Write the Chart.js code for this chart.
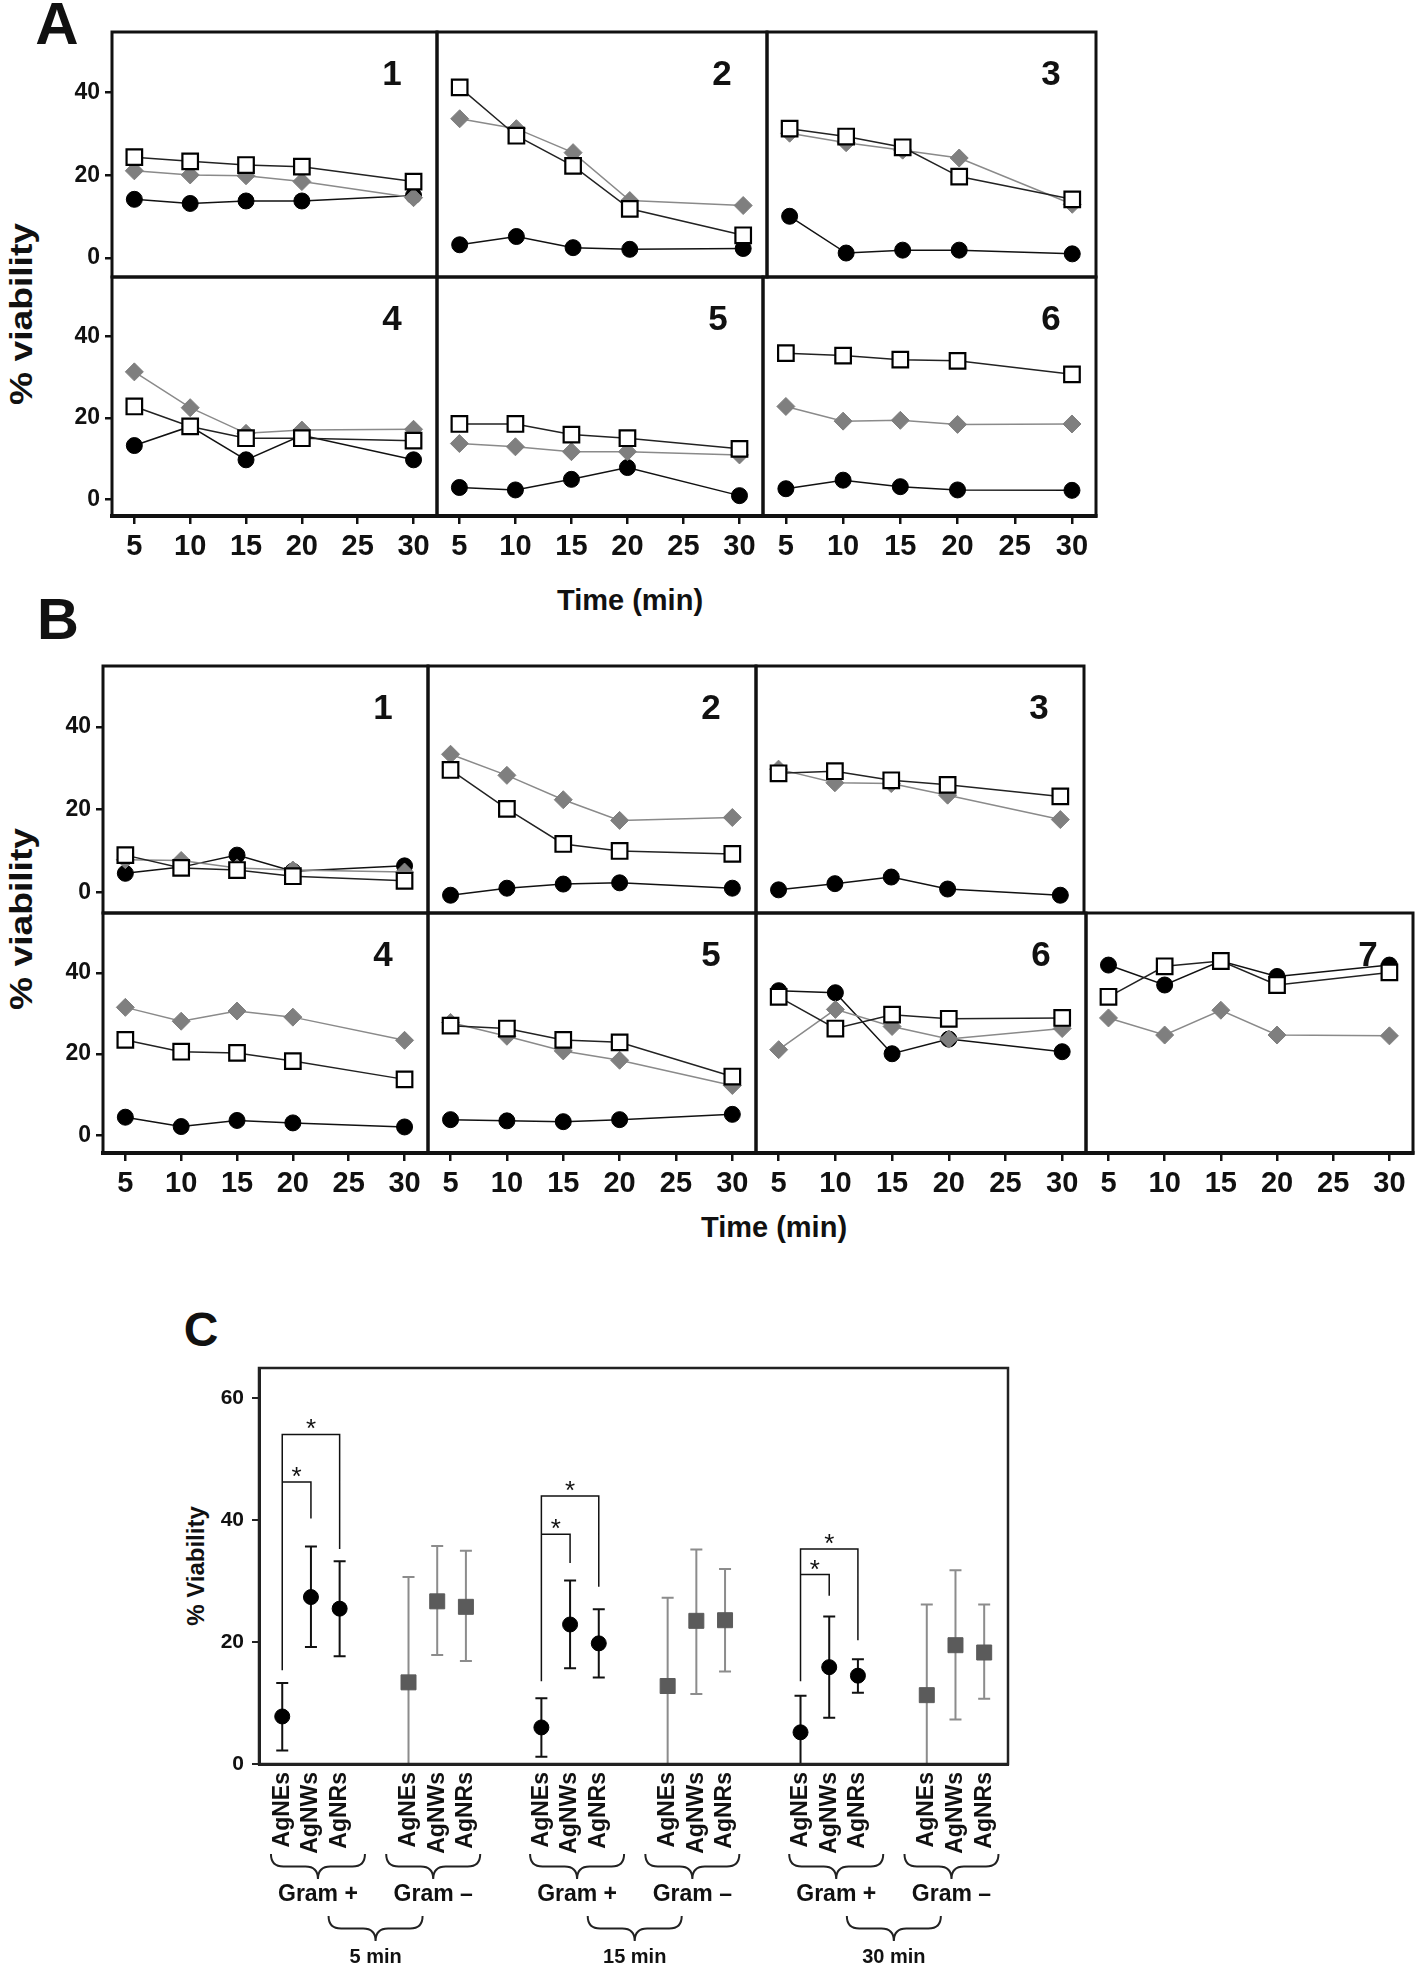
<!DOCTYPE html>
<html lang="en">

<head>
    <meta charset="UTF-8">
    <meta name="viewport" content="width=device-width, initial-scale=1.0">
    <script src="https://cdn.jsdelivr.net/npm/chart.js"></script>
    <title>Viability</title>
    <style>
        html, body { margin: 0; padding: 0; background: #fff; overflow: hidden; }
        #page { position: relative; width: 1418px; height: 1967px; overflow: hidden; }
        #page canvas { position: absolute; }
        .t {
            position: absolute; transform: translate(-50%, -50%); white-space: nowrap;
            line-height: 1; font-weight: bold; color: #111;
            font-family: "Liberation Sans", Arial, sans-serif;
        }
        .rot { transform: translate(-50%, -50%) rotate(-90deg); }
        .rotLong { transform: translate(-50%, -50%) rotate(-90deg) scaleX(1.2); }
    </style>
</head>

<body>
    <div id="page">
        <div class="t" style="left:57px; top:24px; font-size:60px">A</div>
        <div class="t" style="left:58px; top:619px; font-size:58px">B</div>
        <div class="t" style="left:201px; top:1330px; font-size:48px">C</div>

        <div class="t rotLong" style="left:21px; top:314px; font-size:31px">% viability</div>
        <div class="t rotLong" style="left:21px; top:919px; font-size:31px">% viability</div>
        <div class="t" style="left:630px; top:600px; font-size:29px">Time (min)</div>
        <div class="t" style="left:774px; top:1227px; font-size:29px">Time (min)</div>
        <div class="t rot" style="left:196px; top:1566px; font-size:24px">% Viability</div>
    </div>
</body>

</html>

<script>
    var times = [5, 10, 15, 20, 30]
    var timeTicks = [5, 10, 15, 20, 25, 30]
    var viabilityTicks = [0, 20, 40]

    // A - black circles, gray diamonds, open squares
    var a1Circle = [14.2, 13.2, 13.8, 13.8, 15.1]
    var a1Diamond = [21.1, 20.1, 19.9, 18.5, 14.6]
    var a1Square = [24.4, 23.4, 22.5, 22.1, 18.5]

    var a2Circle = [3.2, 5.2, 2.5, 2.1, 2.3]
    var a2Diamond = [33.7, 31.3, 25.5, 13.9, 12.7]
    var a2Square = [41.3, 29.6, 22.3, 11.9, 5.5]

    var a3Circle = [10.1, 1.2, 1.9, 1.9, 1.0]
    var a3Diamond = [30.2, 27.9, 26.1, 24.2, 13.0]
    var a3Square = [31.3, 29.4, 26.8, 19.7, 14.2]

    var a4Circle = [13.2, 17.9, 9.7, 15.7, 9.7]
    var a4Diamond = [31.3, 22.5, 16.2, 17.0, 17.2]
    var a4Square = [22.8, 17.9, 15.0, 15.0, 14.4]

    var a5Circle = [2.9, 2.3, 4.9, 7.8, 0.9]
    var a5Diamond = [13.7, 12.9, 11.7, 11.7, 10.9]
    var a5Square = [18.5, 18.5, 15.9, 15.0, 12.4]

    var a6Circle = [2.6, 4.7, 3.1, 2.3, 2.2]
    var a6Diamond = [22.8, 19.2, 19.4, 18.4, 18.5]
    var a6Square = [35.9, 35.3, 34.3, 34.0, 30.7]

    // B
    var b1Circle = [4.6, 6.1, 9.0, 5.1, 6.4]
    var b1Diamond = [7.9, 7.7, 5.9, 5.4, 4.9]
    var b1Square = [9.0, 5.9, 5.4, 3.9, 2.8]

    var b2Circle = [-0.7, 1.0, 2.0, 2.3, 1.0]
    var b2Diamond = [33.4, 28.3, 22.4, 17.4, 18.1]
    var b2Square = [29.6, 20.2, 11.7, 10.0, 9.3]

    var b3Circle = [0.6, 2.1, 3.7, 0.8, -0.7]
    var b3Diamond = [29.8, 26.5, 26.3, 23.5, 17.6]
    var b3Square = [28.8, 29.3, 27.1, 26.0, 23.2]

    var b4Circle = [4.5, 2.2, 3.7, 3.1, 2.1]
    var b4Diamond = [31.5, 28.1, 30.6, 29.1, 23.4]
    var b4Square = [23.5, 20.6, 20.3, 18.3, 13.8]

    var b5Circle = [3.9, 3.6, 3.4, 3.9, 5.2]
    var b5Diamond = [27.8, 24.4, 20.8, 18.5, 12.3]
    var b5Square = [27.0, 26.3, 23.5, 22.9, 14.5]

    var b6Circle = [35.6, 35.1, 20.1, 23.7, 20.6]
    var b6Diamond = [21.1, 31.0, 26.8, 23.7, 26.3]
    var b6Square = [34.1, 26.3, 29.7, 28.7, 28.9]

    var b7Circle = [41.9, 37.0, 42.9, 39.1, 41.9]
    var b7Diamond = [28.9, 24.7, 30.8, 24.7, 24.5]
    var b7Square = [34.1, 41.6, 42.9, 37.0, 40.1]

    // C - mean and error bar ends, order: 5 min, 15 min, 30 min x (AgNEs, AgNWs, AgNRs)
    var particles = ['AgNEs', 'AgNWs', 'AgNRs']
    var gramLabels = ['Gram +', 'Gram –']
    var timeLabels = ['5 min', '15 min', '30 min']
    var cTicks = [0, 20, 40, 60]

    var posMean = [7.8, 27.4, 25.5, 6.0, 22.9, 19.8, 5.2, 15.9, 14.5]
    var posLow = [2.2, 19.2, 17.7, 1.2, 15.7, 14.2, 0, 7.6, 11.7]
    var posHigh = [13.3, 35.7, 33.3, 10.8, 30.1, 25.4, 11.2, 24.2, 17.2]

    var negMean = [13.4, 26.7, 25.8, 12.8, 23.5, 23.6, 11.3, 19.5, 18.3]
    var negLow = [0, 17.9, 16.9, 0, 11.5, 15.2, 0, 7.3, 10.7]
    var negHigh = [30.7, 35.8, 35.0, 27.3, 35.2, 32.0, 26.2, 31.8, 26.2]

    // significance brackets (one per time point)
    var sigOuterTop = [54.1, 44.0, 35.3]
    var sigInnerTop = [46.3, 37.7, 31.1]
    var sigLeftEnd = [15.4, 13.6, 13.6]
    var sigOuterEnd = [35.3, 29.1, 20.3]
    var sigInnerEnd = [40.3, 33.0, 27.6]

    var sans = "'Liberation Sans', Arial, sans-serif"
    var narrow = "'Liberation Sans Narrow', 'Arial Narrow', 'Liberation Sans', sans-serif"
    var page = document.getElementById('page')

    // layout of the small panels: frame box [x0, y0, x1, y1] on the page
    var panels = [
        { num: '1', box: [112, 32, 437, 277], yMin: -4.6, yMax: 54.7, left: true, bottom: false, s: [a1Circle, a1Diamond, a1Square] },
        { num: '2', box: [437, 32, 767, 277], yMin: -4.6, yMax: 54.7, left: false, bottom: false, s: [a2Circle, a2Diamond, a2Square] },
        { num: '3', box: [767, 32, 1096, 277], yMin: -4.6, yMax: 54.7, left: false, bottom: false, s: [a3Circle, a3Diamond, a3Square] },
        { num: '4', box: [112, 277, 437, 516], yMin: -4.1, yMax: 54.6, left: true, bottom: true, s: [a4Circle, a4Diamond, a4Square] },
        { num: '5', box: [437, 277, 763, 516], yMin: -4.1, yMax: 54.6, left: false, bottom: true, s: [a5Circle, a5Diamond, a5Square] },
        { num: '6', box: [763, 277, 1096, 516], yMin: -4.1, yMax: 54.6, left: false, bottom: true, s: [a6Circle, a6Diamond, a6Square] },

        { num: '1', box: [103, 666, 428, 913], yMin: -5.0, yMax: 54.75, left: true, bottom: false, s: [b1Circle, b1Diamond, b1Square] },
        { num: '2', box: [428, 666, 756, 913], yMin: -5.0, yMax: 54.75, left: false, bottom: false, s: [b2Circle, b2Diamond, b2Square] },
        { num: '3', box: [756, 666, 1084, 913], yMin: -5.0, yMax: 54.75, left: false, bottom: false, s: [b3Circle, b3Diamond, b3Square] },
        { num: '4', box: [103, 913, 428, 1153], yMin: -4.3, yMax: 54.7, left: true, bottom: true, s: [b4Circle, b4Diamond, b4Square] },
        { num: '5', box: [428, 913, 756, 1153], yMin: -4.3, yMax: 54.7, left: false, bottom: true, s: [b5Circle, b5Diamond, b5Square] },
        { num: '6', box: [756, 913, 1086, 1153], yMin: -4.3, yMax: 54.7, left: false, bottom: true, s: [b6Circle, b6Diamond, b6Square] },
        { num: '7', box: [1086, 913, 1413, 1153], yMin: -4.3, yMax: 54.7, left: false, bottom: true, s: [b7Circle, b7Diamond, b7Square] }
    ]

    function toPoints(arr) {
        return times.map(function (t, i) { return { x: t, y: arr[i] } })
    }

    var panelPlugin = {
        id: 'panelFrame',
        afterDraw: function (chart) {
            var ctx = chart.ctx
            var a = chart.chartArea
            ctx.save()
            ctx.strokeStyle = '#111'
            ctx.lineWidth = 3
            ctx.strokeRect(a.left, a.top, a.right - a.left, a.bottom - a.top)
            ctx.fillStyle = '#111'
            ctx.font = 'bold 35px ' + sans
            ctx.textAlign = 'center'
            ctx.textBaseline = 'alphabetic'
            ctx.fillText(chart.options.plugins.panelFrame.num, a.right - 45, a.top + 53)
            ctx.restore()
        }
    }

    function buildPanel(p) {
        var m = 4
        var padL = p.left ? 72 : 0
        var padB = p.bottom ? 62 : 0
        var w = p.box[2] - p.box[0]
        var h = p.box[3] - p.box[1]
        var cw = w + padL + 2 * m
        var ch = h + padB + 2 * m
        var cv = document.createElement('canvas')
        cv.width = cw
        cv.height = ch
        cv.style.left = (p.box[0] - padL - m) + 'px'
        cv.style.top = (p.box[1] - m) + 'px'
        cv.style.width = cw + 'px'
        cv.style.height = ch + 'px'
        page.appendChild(cv)

        new Chart(cv, {
            type: 'line',
            data: {
                datasets: [
                    {
                        label: 'squares', data: toPoints(p.s[2]), order: 1,
                        borderColor: '#222', borderWidth: 1.5,
                        pointStyle: 'rect', pointRadius: 11, pointBorderWidth: 2.2,
                        pointBackgroundColor: '#fff', pointBorderColor: '#000'
                    },
                    {
                        label: 'diamonds', data: toPoints(p.s[1]), order: 2,
                        borderColor: '#8a8a8a', borderWidth: 1.5,
                        pointStyle: 'rectRot', pointRadius: 9, pointBorderWidth: 1,
                        pointBackgroundColor: '#7f7f7f', pointBorderColor: '#7f7f7f'
                    },
                    {
                        label: 'circles', data: toPoints(p.s[0]), order: 3,
                        borderColor: '#111', borderWidth: 1.5,
                        pointStyle: 'circle', pointRadius: 8, pointBorderWidth: 1,
                        pointBackgroundColor: '#000', pointBorderColor: '#000'
                    }
                ]
            },
            options: {
                responsive: false,
                animation: false,
                devicePixelRatio: 1,
                layout: { padding: { left: m, top: m, right: m, bottom: m }, autoPadding: false },
                plugins: {
                    legend: { display: false },
                    tooltip: { enabled: false },
                    panelFrame: { num: p.num }
                },
                scales: {
                    x: {
                        type: 'linear', min: 3, max: 32.1, display: p.bottom,
                        afterBuildTicks: function (s) { s.ticks = timeTicks.map(function (v) { return { value: v } }) },
                        afterFit: function (s) { s.height = padB; s.paddingLeft = 0; s.paddingRight = 0 },
                        border: { display: true, color: '#111', width: 4 },
                        grid: { drawOnChartArea: false, drawTicks: true, tickLength: 8, color: '#111', lineWidth: 2.5 },
                        ticks: { color: '#111', padding: 6, maxRotation: 0, font: { family: narrow, size: 29, weight: 'bold' } }
                    },
                    y: {
                        type: 'linear', min: p.yMin, max: p.yMax, display: p.left,
                        afterBuildTicks: function (s) { s.ticks = viabilityTicks.map(function (v) { return { value: v } }) },
                        afterFit: function (s) { s.width = padL; s.paddingTop = 0; s.paddingBottom = 0 },
                        border: { display: false },
                        grid: { drawOnChartArea: false, drawTicks: true, tickLength: 7, color: '#111', lineWidth: 2.5 },
                        ticks: { color: '#111', padding: 5, font: { family: sans, size: 23, weight: 'bold' } }
                    }
                }
            },
            plugins: [panelPlugin]
        })
    }

    panels.forEach(buildPanel)

    // ---------- panel C ----------
    // x position of each marker: time block, gram group, particle
    function cPos(i, g) {
        return 0.81 + Math.floor(i / 3) * 9.03 + g * 4.4 + (i % 3)
    }

    var cTickValues = []
    for (var t = 0; t < 3; t++) {
        for (var g = 0; g < 2; g++) {
            for (var k = 0; k < 3; k++) {
                cTickValues.push(cPos(t * 3 + k, g))
            }
        }
    }

    function drawBars(ctx, xs, ys, low, high, g, color) {
        ctx.strokeStyle = color
        ctx.lineWidth = 2
        low.forEach(function (lo, i) {
            var px = xs.getPixelForValue(cPos(i, g))
            var pLo = ys.getPixelForValue(lo)
            var pHi = ys.getPixelForValue(high[i])
            ctx.beginPath()
            ctx.moveTo(px, pLo)
            ctx.lineTo(px, pHi)
            ctx.moveTo(px - 6, pHi)
            ctx.lineTo(px + 6, pHi)
            if (lo > 0) {
                ctx.moveTo(px - 6, pLo)
                ctx.lineTo(px + 6, pLo)
            }
            ctx.stroke()
        })
    }

    function brace(ctx, x1, x2, y, h) {
        var xm = (x1 + x2) / 2
        var r = h / 2
        ctx.beginPath()
        ctx.moveTo(x1, y)
        ctx.quadraticCurveTo(x1, y + r, x1 + r, y + r)
        ctx.lineTo(xm - r, y + r)
        ctx.quadraticCurveTo(xm, y + r, xm, y + h)
        ctx.quadraticCurveTo(xm, y + r, xm + r, y + r)
        ctx.lineTo(x2 - r, y + r)
        ctx.quadraticCurveTo(x2, y + r, x2, y)
        ctx.stroke()
    }

    var cPlugin = {
        id: 'extrasC',
        beforeDatasetsDraw: function (chart) {
            var ctx = chart.ctx
            ctx.save()
            drawBars(ctx, chart.scales.x, chart.scales.y, posLow, posHigh, 0, '#111')
            drawBars(ctx, chart.scales.x, chart.scales.y, negLow, negHigh, 1, '#8c8c8c')
            ctx.restore()
        },
        afterDraw: function (chart) {
            var ctx = chart.ctx
            var a = chart.chartArea
            var xs = chart.scales.x
            var ys = chart.scales.y
            ctx.save()
            ctx.strokeStyle = '#222'
            ctx.lineWidth = 2.5
            ctx.strokeRect(a.left, a.top, a.right - a.left, a.bottom - a.top)

            // significance brackets
            ctx.strokeStyle = '#111'
            ctx.lineWidth = 1.5
            ctx.fillStyle = '#111'
            ctx.font = '26px ' + sans
            ctx.textAlign = 'center'
            ctx.textBaseline = 'alphabetic'
            for (var t = 0; t < 3; t++) {
                var xNE = xs.getPixelForValue(cPos(t * 3, 0))
                var xNW = xs.getPixelForValue(cPos(t * 3 + 1, 0))
                var xNR = xs.getPixelForValue(cPos(t * 3 + 2, 0))
                var yOut = ys.getPixelForValue(sigOuterTop[t])
                var yIn = ys.getPixelForValue(sigInnerTop[t])
                ctx.beginPath()
                ctx.moveTo(xNE, ys.getPixelForValue(sigLeftEnd[t]))
                ctx.lineTo(xNE, yOut)
                ctx.lineTo(xNR, yOut)
                ctx.lineTo(xNR, ys.getPixelForValue(sigOuterEnd[t]))
                ctx.moveTo(xNE, yIn)
                ctx.lineTo(xNW, yIn)
                ctx.lineTo(xNW, ys.getPixelForValue(sigInnerEnd[t]))
                ctx.stroke()
                ctx.fillText('*', (xNE + xNR) / 2, yOut + 3)
                ctx.fillText('*', (xNE + xNW) / 2, yIn + 3)
            }

            // braces and group labels under the axis
            var b = a.bottom
            ctx.lineWidth = 2
            ctx.strokeStyle = '#222'
            ctx.textBaseline = 'middle'
            for (var t = 0; t < 3; t++) {
                var centers = []
                for (var g = 0; g < 2; g++) {
                    var cx = xs.getPixelForValue(cPos(t * 3 + 1, g)) + (g == 0 ? 7 : -4)
                    centers.push(cx)
                    brace(ctx, cx - 47, cx + 47, b + 90, 25)
                    ctx.font = 'bold 23px ' + sans
                    ctx.fillText(gramLabels[g], cx, b + 131)
                }
                var mid = (centers[0] + centers[1]) / 2
                brace(ctx, mid - 47, mid + 47, b + 152, 25)
                ctx.font = 'bold 20px ' + sans
                ctx.fillText(timeLabels[t], mid, b + 193)
            }
            ctx.restore()
        }
    }

    var cvC = document.createElement('canvas')
    cvC.width = 900
    cvC.height = 627
    cvC.style.left = '150px'
    cvC.style.top = '1340px'
    cvC.style.width = '900px'
    cvC.style.height = '627px'
    page.appendChild(cvC)

    new Chart(cvC, {
        type: 'scatter',
        data: {
            datasets: [
                {
                    label: 'Gram +',
                    data: posMean.map(function (v, i) { return { x: cPos(i, 0), y: v } }),
                    pointStyle: 'circle', pointRadius: 7.5,
                    backgroundColor: '#000', borderColor: '#000', borderWidth: 1
                },
                {
                    label: 'Gram –',
                    data: negMean.map(function (v, i) { return { x: cPos(i, 1), y: v } }),
                    pointStyle: 'rect', pointRadius: 10.6,
                    backgroundColor: '#5b5b5b', borderColor: '#5b5b5b', borderWidth: 1
                }
            ]
        },
        options: {
            responsive: false,
            animation: false,
            devicePixelRatio: 1,
            layout: { padding: { left: 0, top: 28, right: 42, bottom: 0 }, autoPadding: false },
            plugins: {
                legend: { display: false },
                tooltip: { enabled: false }
            },
            scales: {
                x: {
                    type: 'linear', min: 0, max: 26.1,
                    afterBuildTicks: function (s) { s.ticks = cTickValues.map(function (v) { return { value: v } }) },
                    afterFit: function (s) { s.height = 203; s.paddingLeft = 0; s.paddingRight = 0 },
                    border: { display: true, color: '#222', width: 3 },
                    grid: { display: false, drawTicks: false },
                    ticks: {
                        autoSkip: false, minRotation: 90, maxRotation: 90, padding: 8, color: '#111',
                        font: { family: sans, size: 23, weight: 'bold' },
                        callback: function (v, i) { return particles[i % 3] }
                    }
                },
                y: {
                    type: 'linear', min: 0, max: 65,
                    afterBuildTicks: function (s) { s.ticks = cTicks.map(function (v) { return { value: v } }) },
                    afterFit: function (s) { s.width = 109; s.paddingTop = 0; s.paddingBottom = 0 },
                    border: { display: true, color: '#222', width: 3 },
                    grid: { drawOnChartArea: false, drawTicks: true, tickLength: 7, color: '#222', lineWidth: 2 },
                    ticks: { padding: 8, color: '#111', font: { family: sans, size: 21, weight: 'bold' } }
                }
            }
        },
        plugins: [cPlugin]
    })
</script>
